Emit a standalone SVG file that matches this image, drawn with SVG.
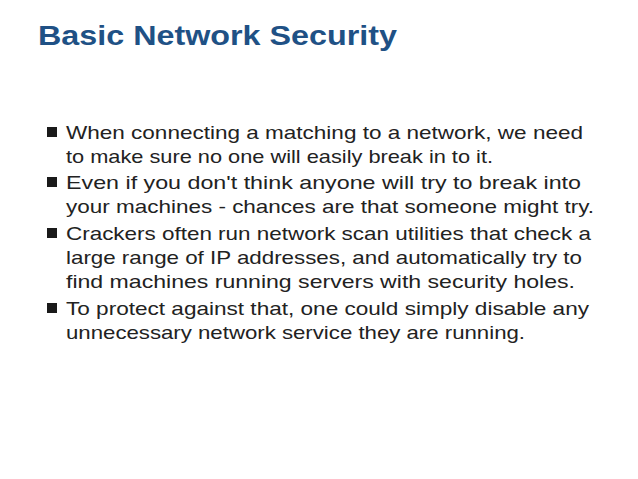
<svg xmlns="http://www.w3.org/2000/svg" width="638" height="479" viewBox="0 0 638 479">
<style>
.t{font-family:"Liberation Sans",Arial,sans-serif;font-weight:bold;font-size:28px;fill:#1F5185}
.b{font-family:"Liberation Sans",Arial,sans-serif;font-size:18.5px;fill:#222}
.sq{fill:#1a1a1a}
</style>
<rect width="638" height="479" fill="#fff"/>
<text class="t" x="38" y="45" textLength="359" lengthAdjust="spacingAndGlyphs">Basic Network Security</text>
<g id="bullets">
<rect class="sq" x="47" y="127" width="10" height="10"/>
<rect class="sq" x="47" y="177" width="10" height="10"/>
<rect class="sq" x="47" y="228" width="10" height="10"/>
<rect class="sq" x="47" y="303" width="10" height="10"/>
</g>
<g id="body">
<text class="b" x="66" y="139" textLength="517" lengthAdjust="spacingAndGlyphs">When connecting a matching to a network, we need</text>
<text class="b" x="66" y="163" textLength="427" lengthAdjust="spacingAndGlyphs">to make sure no one will easily break in to it.</text>
<text class="b" x="66" y="189" textLength="515" lengthAdjust="spacingAndGlyphs">Even if you don't think anyone will try to break into</text>
<text class="b" x="66" y="213" textLength="528" lengthAdjust="spacingAndGlyphs">your machines - chances are that someone might try.</text>
<text class="b" x="66" y="240" textLength="525" lengthAdjust="spacingAndGlyphs">Crackers often run network scan utilities that check a</text>
<text class="b" x="66" y="264" textLength="516" lengthAdjust="spacingAndGlyphs">large range of IP addresses, and automatically try to</text>
<text class="b" x="66" y="288" textLength="509" lengthAdjust="spacingAndGlyphs">find machines running servers with security holes.</text>
<text class="b" x="66" y="315" textLength="523" lengthAdjust="spacingAndGlyphs">To protect against that, one could simply disable any</text>
<text class="b" x="66" y="339" textLength="459" lengthAdjust="spacingAndGlyphs">unnecessary network service they are running.</text>
</g>
</svg>
